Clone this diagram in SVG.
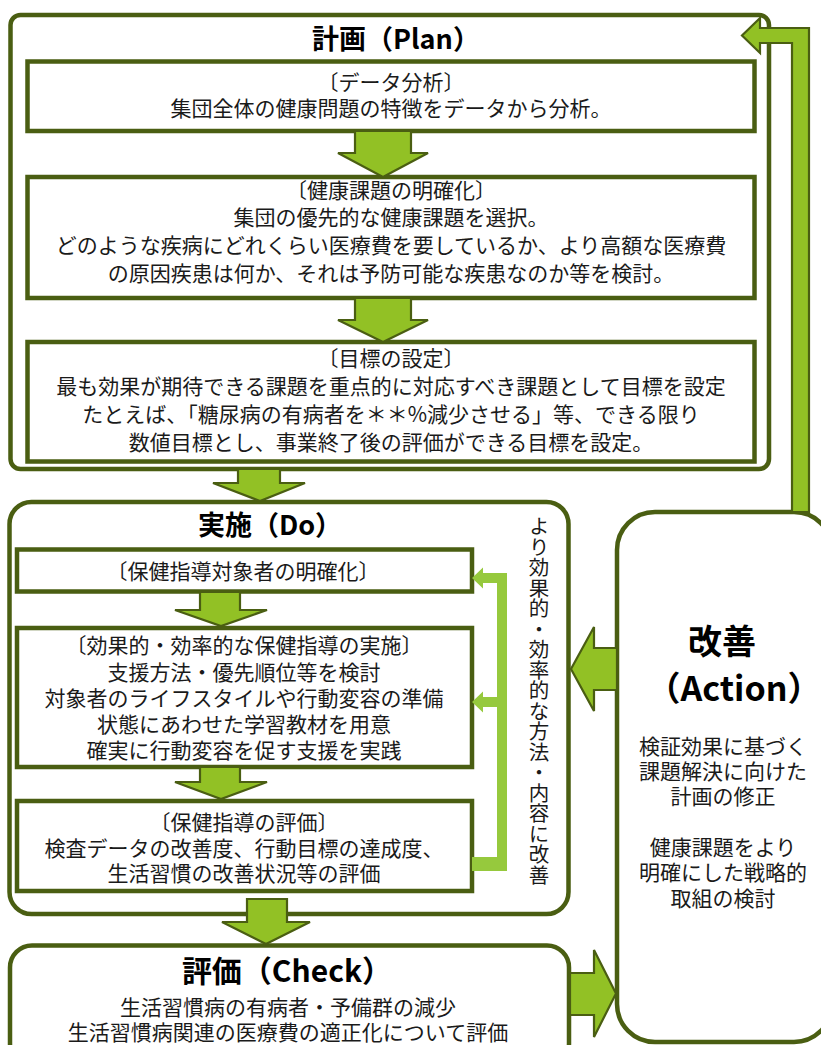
<svg xmlns="http://www.w3.org/2000/svg" width="821" height="1045" viewBox="0 0 821 1045">
<style>
.frame{fill:#fff;stroke:#4A5E12;stroke-width:4.5}
.box{fill:#fff;stroke:#4A5E12;stroke-width:4.5}
.arr{fill:#92C125;stroke:#4A5E12;stroke-width:2.2;stroke-linejoin:miter}
.fb{fill:#96C93D;stroke:none}
text{font-family:"Noto Sans CJK JP","Noto Sans",sans-serif;fill:#1a1a1a;dominant-baseline:central;text-anchor:middle}
.t{font-size:21px}
.h{font-size:27px;font-weight:bold;fill:#000}
.h2{font-size:30px;font-weight:bold;fill:#000}
.h3{font-size:34px;font-weight:bold;fill:#000}
.v{font-size:20.5px;writing-mode:vertical-rl;text-anchor:start;dominant-baseline:auto}
</style>
<rect width="821" height="1045" fill="#fff"/>

<g id="plan">
<rect class="frame" x="10.5" y="15" width="758.5" height="454" rx="10"/>
<text class="h" x="396" y="37">計画（Plan）</text>
</g>
<g id="plan-data">
<rect class="box" x="27.5" y="61.5" width="727" height="69.5"/>
<text class="t" x="391" y="81">〔データ分析〕</text>
<text class="t" x="391" y="107">集団全体の健康問題の特徴をデータから分析。</text>
</g>
<g id="plan-issue">
<rect class="box" x="27.5" y="177" width="727" height="121"/>
<text class="t" x="391" y="189">〔健康課題の明確化〕</text>
<text class="t" x="391" y="216">集団の優先的な健康課題を選択。</text>
<text class="t" x="391" y="244">どのような疾病にどれくらい医療費を要しているか、より高額な医療費</text>
<text class="t" x="391" y="272">の原因疾患は何か、それは予防可能な疾患なのか等を検討。</text>
</g>
<g id="plan-goal">
<rect class="box" x="27.5" y="342" width="727" height="119.5"/>
<text class="t" x="391" y="357">〔目標の設定〕</text>
<text class="t" x="391" y="385">最も効果が期待できる課題を重点的に対応すべき課題として目標を設定</text>
<text class="t" x="391" y="413">たとえば、「糖尿病の有病者を＊＊%減少させる」等、できる限り</text>
<text class="t" x="391" y="441">数値目標とし、事業終了後の評価ができる目標を設定。</text>
</g>

<g id="do">
<rect class="frame" x="9.5" y="502" width="559" height="412" rx="22"/>
<text class="h" x="270" y="523">実施（Do）</text>
</g>
<g id="do-target">
<rect class="box" x="17" y="549.5" width="455" height="42"/>
<text class="t" x="243" y="570">〔保健指導対象者の明確化〕</text>
</g>
<g id="do-impl">
<rect class="box" x="17" y="628" width="455" height="139"/>
<text class="t" x="244" y="644">〔効果的・効率的な保健指導の実施〕</text>
<text class="t" x="244" y="671">支援方法・優先順位等を検討</text>
<text class="t" x="244" y="697">対象者のライフスタイルや行動変容の準備</text>
<text class="t" x="244" y="723">状態にあわせた学習教材を用意</text>
<text class="t" x="244" y="749">確実に行動変容を促す支援を実践</text>
</g>
<g id="do-eval">
<rect class="box" x="17" y="801" width="455" height="90"/>
<text class="t" x="244" y="821">〔保健指導の評価〕</text>
<text class="t" x="244" y="847">検査データの改善度、行動目標の達成度、</text>
<text class="t" x="244" y="872">生活習慣の改善状況等の評価</text>
</g>
<g id="do-note">
<text class="v" x="539" y="516">より効果的・効率的な方法・内容に改善</text>
</g>

<g id="check">
<rect class="frame" x="10" y="945.5" width="559" height="120" rx="22"/>
<text class="h2" x="287" y="969">評価（Check）</text>
<text class="t" x="288" y="1006">生活習慣病の有病者・予備群の減少</text>
<text class="t" x="288" y="1031">生活習慣病関連の医療費の適正化について評価</text>
</g>

<g id="action">
<rect class="frame" x="617" y="512" width="215" height="530" rx="38"/>
<text class="h3" x="722" y="639">改善</text>
<text class="h3" x="734" y="686">（Action）</text>
<text class="t" x="723" y="745">検証効果に基づく</text>
<text class="t" x="723" y="770">課題解決に向けた</text>
<text class="t" x="723" y="795">計画の修正</text>
<text class="t" x="723" y="846">健康課題をより</text>
<text class="t" x="723" y="871">明確にした戦略的</text>
<text class="t" x="723" y="897">取組の検討</text>
</g>

<g id="connectors">
<polygon class="arr" points="355,131 411,131 411,153 428,153 383,177 338,153 355,153"/>
<polygon class="arr" points="355,298 411,298 411,320 428,320 383,342 338,320 355,320"/>
<polygon class="arr" points="238,469 280,469 280,483 305,483 260,501 213,483 238,483"/>
<polygon class="arr" points="200,592 240,592 240,610 267,610 221,626 175,610 200,610"/>
<polygon class="arr" points="200,767 240,767 240,782 267,782 221,799 175,782 200,782"/>
<polygon class="arr" points="247,899 287,899 287,922 310,922 266,944 222,922 247,922"/>
<polygon class="arr" points="570,973 594,973 594,950 616,993.5 594,1037 594,1015 570,1015"/>
<polygon class="arr" points="617,648 594,648 594,627 571,669 594,711 594,690 617,690"/>
<polygon class="arr" points="792,512 792,43 760,43 760,53 742,35.5 760,18 760,28 809,28 809,512"/>
<polygon class="fb" points="472,578 483,567.5 483,573 507,573 507,871 472,871 472,857 497,857 497,707 483,707 483,712.5 472,702 483,691.5 483,697 497,697 497,583 483,583 483,588.5"/>
</g>
</svg>
